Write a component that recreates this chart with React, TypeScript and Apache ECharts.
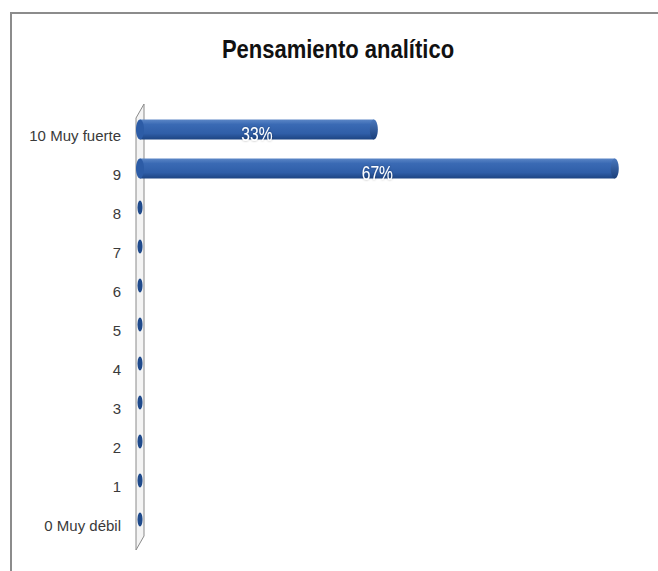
import React, { useEffect, useRef } from "react";
import * as echarts from "echarts";

const categories = [
  "0 Muy débil",
  "1",
  "2",
  "3",
  "4",
  "5",
  "6",
  "7",
  "8",
  "9",
  "10 Muy fuerte",
];
const percentValues = [0, 0, 0, 0, 0, 0, 0, 0, 0, 67, 33];
const chartTitle = "Pensamiento analítico";

const SANS = "'Liberation Sans', Arial, sans-serif";

export default function App() {
  const ref = useRef<HTMLDivElement>(null);
  useEffect(() => {
    document.body.style.margin = "0";
    if (!ref.current) return;
    const chart = echarts.init(ref.current, undefined, { renderer: "svg" });
    const data = percentValues.map((v, i) => [v, i]);
    chart.setOption({
      animation: false,
      backgroundColor: "#ffffff",
      graphic: [
        {
          type: "rect",
          shape: { x: 11, y: 13, width: 700, height: 600 },
          style: { fill: "none", stroke: "#8c8c8c", lineWidth: 2 },
          z: 0,
        },
        {
          type: "text",
          x: 338,
          y: 50,
          scaleX: 0.88,
          style: {
            text: chartTitle,
            x: 0,
            y: 0,
            align: "center",
            verticalAlign: "middle",
            fontFamily: SANS,
            fontSize: 25,
            fontWeight: "bold",
            fill: "#111111",
          },
          z: 2,
        },
        {
          type: "polygon",
          shape: {
            points: [
              [136, 118],
              [144, 104],
              [144, 536],
              [136, 550],
            ],
          },
          style: { fill: "#f4f4f4", stroke: "#8a8a8a", lineWidth: 1 },
          z: 1,
        },
      ],
      grid: { left: 140, right: 22, top: 110, bottom: 32, containLabel: false },
      xAxis: {
        type: "value",
        min: 0,
        max: 70,
        show: false,
      },
      yAxis: {
        type: "category",
        data: categories,
        axisLine: { show: false },
        axisTick: { show: false },
        splitLine: { show: false },
        axisLabel: {
          margin: 19,
          fontFamily: SANS,
          fontSize: 15,
          lineHeight: 12,
          verticalAlign: "top",
          color: "#3a3a3a",
        },
      },
      series: [
        {
          type: "custom",
          encode: { x: 0, y: 1 },
          data,
          z: 5,
          renderItem: (params: any, api: any) => {
            const v = api.value(0);
            const idx = api.value(1);
            const s = api.coord([0, idx]);
            const e = api.coord([v, idx]);
            const h = 20;
            const cy = s[1];
            const rx = 4;
            const children: any[] = [];
            if (v > 0) {
              children.push({
                type: "rect",
                shape: { x: s[0], y: cy - h / 2, width: e[0] - s[0], height: h },
                style: {
                  fill: new echarts.graphic.LinearGradient(0, 0, 0, 1, [
                    { offset: 0, color: "#5b86c6" },
                    { offset: 0.25, color: "#3a6ab4" },
                    { offset: 0.7, color: "#2f5ea8" },
                    { offset: 1, color: "#1d4482" },
                  ]),
                },
              });
              children.push({
                type: "ellipse",
                shape: { cx: e[0], cy, rx, ry: h / 2 },
                style: {
                  fill: new echarts.graphic.LinearGradient(0, 0, 0, 1, [
                    { offset: 0, color: "#4a78bd" },
                    { offset: 1, color: "#1b3f7a" },
                  ]),
                },
              });
              children.push({
                type: "ellipse",
                shape: { cx: s[0], cy, rx, ry: h / 2 },
                style: { fill: "#2d5ca6" },
              });
              children.push({
                type: "text",
                x: (s[0] + e[0]) / 2,
                y: cy + 5,
                scaleX: 0.78,
                style: {
                  text: v + "%",
                  x: 0,
                  y: 0,
                  align: "center",
                  verticalAlign: "middle",
                  fill: "#ffffff",
                  fontFamily: SANS,
                  fontSize: 20,
                  textShadowColor: "rgba(0,0,0,0.35)",
                  textShadowBlur: 2,
                },
              });
            } else {
              children.push({
                type: "ellipse",
                shape: { cx: s[0], cy, rx: 2.5, ry: 7 },
                style: { fill: "#1f4a8c" },
              });
            }
            return { type: "group", children };
          },
        },
      ],
    });
    return () => chart.dispose();
  }, []);
  return <div ref={ref} style={{ width: 658, height: 571 }} />;
}
